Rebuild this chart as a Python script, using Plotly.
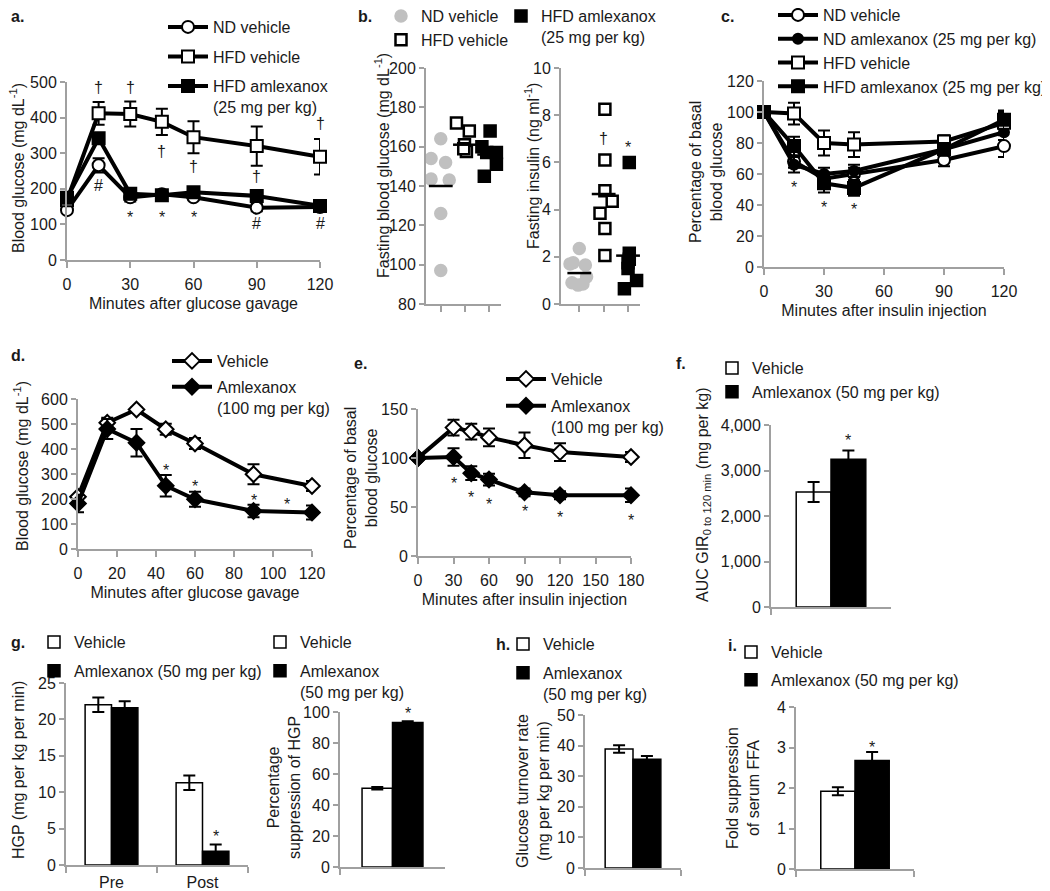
import plotly.graph_objects as go

# page has an 8px body margin: the figure is drawn at page offset (8, 8)
OFF = 8
W, H = 1042, 883
FONT = "Liberation Sans, Arial, sans-serif"
AXC = "#a0a0a0"
TXT = "#1a1a1a"
BARGAP = 0.42

# ---------------- data ----------------
# a. OGTT (25 mg/kg)
a_time = [0, 15, 30, 45, 60, 90, 120]
a_nd_veh = [140, 266, 176, 185, 176, 147, 149]
a_nd_veh_err = [8, 20, 12, 8, 8, 10, 10]
a_hfd_veh = [168, 412, 410, 388, 345, 320, 290]
a_hfd_veh_err = [12, 32, 35, 37, 45, 55, 50]
a_hfd_aml = [175, 342, 186, 182, 190, 180, 152]
a_hfd_aml_err = [12, 12, 12, 8, 8, 8, 8]
a_sig_x = [15, 30, 45, 60, 90, 120, 30, 45, 60, 15, 90, 120]
a_sig_y = [484, 484, 304, 262, 234, 383, 131, 131, 131, 210, 103, 103]
a_sig_t = ["†"] * 6 + ["*"] * 3 + ["#"] * 3

# b. fasting glucose / insulin (group index 1,2,3 with jitter)
b_glu_nd_x = [0.6, 1.0, 1.2, 0.6, 1.35, 1.0, 1.0]
b_glu_nd_y = [154, 164, 152, 143.5, 143, 126, 97]
b_glu_hv_x = [1.65, 2.18, 1.98, 2.06, 1.95]
b_glu_hv_y = [172, 168, 161, 157.5, 159]
b_glu_ha_x = [3.04, 2.7, 2.9, 3.3, 3.3, 2.8]
b_glu_ha_y = [168, 160, 157, 157, 151, 145]
b_glu_means = [140, 161, 156]
b_ins_nd_x = [1.0, 0.75, 1.25, 0.62, 1.3, 0.7, 0.95, 1.15]
b_ins_nd_y = [2.35, 1.75, 1.65, 1.7, 1.15, 0.9, 0.8, 0.85]
b_ins_hv_x = [2.05, 2.05, 2.05, 2.35, 1.85, 2.05, 2.05]
b_ins_hv_y = [8.25, 6.1, 4.8, 4.35, 3.85, 3.2, 2.05]
b_ins_ha_x = [3.05, 3.05, 3.0, 3.05, 3.0, 3.35, 2.85]
b_ins_ha_y = [6.0, 2.15, 1.75, 1.9, 1.5, 1.0, 0.65]
b_ins_means = [1.31, 4.66, 2.05]
b_groups = [1, 2, 3]
b_ins_sig_y = [7.0, 6.8]

# c. ITT (25 mg/kg)
c_time = [0, 15, 30, 45, 90, 120]
c_nd_veh = [100, 68, 57, 60, 69, 78]
c_nd_veh_err = [0, 4, 4, 4, 4, 7]
c_nd_aml = [100, 66, 60, 62, 76, 87]
c_nd_aml_err = [0, 5, 4, 4, 4, 5]
c_hfd_veh = [100, 99, 80, 79, 81, 93]
c_hfd_veh_err = [0, 7, 8, 8, 4, 7]
c_hfd_aml = [100, 78, 54, 51, 76, 95]
c_hfd_aml_err = [0, 6, 6, 5, 4, 6]
c_sig_x = [15, 30, 45]
c_sig_y = [54, 41, 40]

# d. OGTT (100 mg/kg)
d_time = [0, 15, 30, 45, 60, 90, 120]
d_veh = [209, 505, 558, 479, 422, 299, 252]
d_veh_err = [15, 20, 8, 22, 22, 40, 20]
d_aml = [182, 480, 425, 253, 199, 152, 146]
d_aml_err = [35, 40, 55, 43, 30, 25, 28]
d_sig_x = [45, 60, 90, 107]
d_sig_y = [329, 266, 209, 195]

# e. ITT (100 mg/kg)
e_time = [0, 30, 45, 60, 90, 120, 180]
e_veh = [100, 131, 127, 121, 113, 106, 101]
e_veh_err = [0, 8, 8, 9, 13, 9, 5]
e_aml = [100, 101, 84.5, 78, 65, 62, 62]
e_aml_err = [0, 9, 7, 6, 4, 4, 7]
e_sig_x = [30, 45, 60, 90, 120, 180]
e_sig_y = [78, 64, 57, 49, 43, 40]

# f. AUC GIR
f_cat = ["GIR"]
f_veh, f_veh_err = [2530], [220]
f_aml, f_aml_err = [3250], [190]
f_sig_y = 3750

# g. HGP
g_cat = ["Pre", "Post"]
g_veh, g_veh_err = [22.0, 11.3], [1.0, 1.0]
g_aml, g_aml_err = [21.6, 1.9], [0.9, 0.9]
g_sig_y = 4.4
g2_cat = ["HGP"]
g2_veh, g2_veh_err = [50.8], [0.8]
g2_aml, g2_aml_err = [93.3], [0.8]

# h. glucose turnover
h_cat = ["Rd"]
h_veh, h_veh_err = [38.9], [1.2]
h_aml, h_aml_err = [35.5], [1.1]

# i. FFA suppression
i_cat = ["FFA"]
i_veh, i_veh_err = [1.92], [0.1]
i_aml, i_aml_err = [2.68], [0.21]
i_sig_y = 3.1


# ---------------- helpers (page pixels -> paper fractions) ----------------
def px(x):
    return (x - OFF) / W


def py(y):
    return 1 - (y - OFF) / H


def dxp(x0, x1):
    return [px(x0), px(x1)]


def dyp(top, bottom):
    return [py(bottom), py(top)]


def line_tr(x, y, err, name, symbol, fill, size, n, legend, show=True):
    return go.Scatter(
        x=x, y=y, name=name, mode="lines+markers",
        line=dict(color="black", width=4),
        marker=dict(symbol=symbol, size=size, color=fill,
                    line=dict(color="black", width=2)),
        error_y=dict(type="data", array=err, color="black", thickness=2, width=6),
        cliponaxis=False, xaxis="x" + n, yaxis="y" + n,
        legend=legend, legendgroup=legend + name, showlegend=show)


def bar_tr(x, y, err, name, fill, n, legend, show=True):
    return go.Bar(
        x=x, y=y, name=name,
        marker=dict(color=fill, line=dict(color="black", width=1.5)),
        error_y=dict(type="data", array=err, color="black", thickness=2, width=6),
        xaxis="x" + n, yaxis="y" + n,
        legend=legend, legendgroup=legend + name, showlegend=show)


def dots_tr(x, y, name, symbol, fill, edge, n, legend, show):
    return go.Scatter(
        x=x, y=y, name=name, mode="markers",
        marker=dict(symbol=symbol, size=11, color=fill, line=dict(color=edge, width=2.5)),
        cliponaxis=False, xaxis="x" + n, yaxis="y" + n,
        legend=legend, legendgroup=legend + name, showlegend=show)


def mean_tr(means, n):
    return go.Scatter(
        x=b_groups, y=means, mode="markers", showlegend=False,
        marker=dict(symbol="line-ew", size=17, line=dict(color="black", width=2.5)),
        cliponaxis=False, xaxis="x" + n, yaxis="y" + n)


fig = go.Figure()

# a
fig.add_trace(line_tr(a_time, a_nd_veh, a_nd_veh_err, "ND vehicle", "circle", "white", 12, "1", "legend"))
fig.add_trace(line_tr(a_time, a_hfd_veh, a_hfd_veh_err, "HFD vehicle", "square", "white", 12, "1", "legend"))
fig.add_trace(line_tr(a_time, a_hfd_aml, a_hfd_aml_err, "HFD amlexanox<br>(25 mg per kg)", "square", "black", 12, "1", "legend"))

# b
GRAY = "#c0c0c0"
fig.add_trace(dots_tr(b_glu_nd_x, b_glu_nd_y, "ND vehicle", "circle", GRAY, GRAY, "2", "legend2", True))
fig.add_trace(dots_tr(b_glu_hv_x, b_glu_hv_y, "HFD vehicle", "square", "white", "black", "2", "legend2", True))
fig.add_trace(dots_tr(b_glu_ha_x, b_glu_ha_y, "HFD amlexanox<br>(25 mg per kg)", "square", "black", "black", "2", "legend3", True))
fig.add_trace(mean_tr(b_glu_means, "2"))
fig.add_trace(dots_tr(b_ins_nd_x, b_ins_nd_y, "ND vehicle", "circle", GRAY, GRAY, "3", "legend2", False))
fig.add_trace(dots_tr(b_ins_hv_x, b_ins_hv_y, "HFD vehicle", "square", "white", "black", "3", "legend2", False))
fig.add_trace(dots_tr(b_ins_ha_x, b_ins_ha_y, "HFD amlexanox", "square", "black", "black", "3", "legend3", False))
fig.add_trace(mean_tr(b_ins_means, "3"))

# c
fig.add_trace(line_tr(c_time, c_nd_veh, c_nd_veh_err, "ND vehicle", "circle", "white", 12, "4", "legend4"))
fig.add_trace(line_tr(c_time, c_nd_aml, c_nd_aml_err, "ND amlexanox (25 mg per kg)", "circle", "black", 10, "4", "legend4"))
fig.add_trace(line_tr(c_time, c_hfd_veh, c_hfd_veh_err, "HFD vehicle", "square", "white", 12, "4", "legend4"))
fig.add_trace(line_tr(c_time, c_hfd_aml, c_hfd_aml_err, "HFD amlexanox (25 mg per kg)", "square", "black", 12, "4", "legend4"))

# d
fig.add_trace(line_tr(d_time, d_veh, d_veh_err, "Vehicle", "diamond", "white", 12, "5", "legend5"))
fig.add_trace(line_tr(d_time, d_aml, d_aml_err, "Amlexanox<br>(100 mg per kg)", "diamond", "black", 12, "5", "legend5"))

# e
fig.add_trace(line_tr(e_time, e_veh, e_veh_err, "Vehicle", "diamond", "white", 12, "6", "legend6"))
fig.add_trace(line_tr(e_time, e_aml, e_aml_err, "Amlexanox<br>(100 mg per kg)", "diamond", "black", 12, "6", "legend6"))

# f
fig.add_trace(bar_tr(f_cat, f_veh, f_veh_err, "Vehicle", "white", "7", "legend7"))
fig.add_trace(bar_tr(f_cat, f_aml, f_aml_err, "Amlexanox (50 mg per kg)", "black", "7", "legend7"))

# g
fig.add_trace(bar_tr(g_cat, g_veh, g_veh_err, "Vehicle", "white", "8", "legend8"))
fig.add_trace(bar_tr(g_cat, g_aml, g_aml_err, "Amlexanox (50 mg per kg)", "black", "8", "legend8"))
fig.add_trace(bar_tr(g2_cat, g2_veh, g2_veh_err, "Vehicle", "white", "9", "legend9"))
fig.add_trace(bar_tr(g2_cat, g2_aml, g2_aml_err, "Amlexanox<br>(50 mg per kg)", "black", "9", "legend9"))

# h
fig.add_trace(bar_tr(h_cat, h_veh, h_veh_err, "Vehicle", "white", "10", "legend10"))
fig.add_trace(bar_tr(h_cat, h_aml, h_aml_err, "Amlexanox<br>(50 mg per kg)", "black", "10", "legend10"))

# i
fig.add_trace(bar_tr(i_cat, i_veh, i_veh_err, "Vehicle", "white", "11", "legend11"))
fig.add_trace(bar_tr(i_cat, i_aml, i_aml_err, "Amlexanox (50 mg per kg)", "black", "11", "legend11"))


# ---------------- axes ----------------
tickfont = dict(family=FONT, size=16, color=TXT)
titlefont = dict(family=FONT, size=16, color=TXT)


def xax(n, x0, x1, rng, tickvals=None, cat=False, title=None, standoff=6, showlabels=True, lstand=3):
    d = dict(domain=dxp(x0, x1), range=rng, anchor="y" + n, showgrid=False, zeroline=False,
             showline=True, linecolor=AXC, linewidth=2, ticks="outside", ticklen=6,
             tickcolor=AXC, tickwidth=2, tickfont=tickfont, showticklabels=showlabels,
             ticklabelstandoff=lstand, automargin=False)
    if cat:
        d.update(type="category", tickson="boundaries")
    else:
        d.update(tickmode="array", tickvals=tickvals)
    if title:
        d["title"] = dict(text=title, font=titlefont, standoff=standoff)
    return d


def yax(n, top, bottom, rng, dtick, fmt=None):
    d = dict(domain=dyp(top, bottom), range=rng, anchor="x" + n, showgrid=False, zeroline=False,
             showline=True, linecolor=AXC, linewidth=2, ticks="outside", ticklen=5,
             tickcolor=AXC, tickwidth=2, tickfont=tickfont, tick0=0, dtick=dtick,
             automargin=False)
    if fmt:
        d["tickformat"] = fmt
    return d


layout = dict(
    width=W, height=H, margin=dict(l=0, r=0, t=0, b=0, autoexpand=False),
    paper_bgcolor="white", plot_bgcolor="rgba(0,0,0,0)",
    font=dict(family=FONT, size=16, color=TXT),
    barmode="group", bargap=BARGAP, bargroupgap=0,
)

layout["xaxis"] = xax("1", 67, 320, [0, 120], [0, 30, 60, 90, 120], title="Minutes after glucose gavage")
layout["yaxis"] = yax("1", 82, 260, [0, 500], 100)
layout["xaxis2"] = xax("2", 426, 501, [0.39, 3.49], b_groups, showlabels=False)
layout["yaxis2"] = yax("2", 68, 304, [80, 200], 20)
layout["xaxis3"] = xax("3", 561, 640, [0.25, 3.49], b_groups, showlabels=False)
layout["yaxis3"] = yax("3", 68, 304, [0, 10], 2)
layout["xaxis4"] = xax("4", 764, 1004, [0, 120], [0, 30, 60, 90, 120], title="Minutes after insulin injection")
layout["yaxis4"] = yax("4", 81, 267, [0, 120], 20)
layout["xaxis5"] = xax("5", 78, 312, [0, 120], [0, 20, 40, 60, 80, 100, 120], title="Minutes after glucose gavage")
layout["yaxis5"] = yax("5", 399, 549, [0, 600], 100)
layout["xaxis6"] = xax("6", 418, 631, [0, 180], [0, 30, 60, 90, 120, 150, 180], title="Minutes after insulin injection")
layout["yaxis6"] = yax("6", 409, 556, [0, 150], 50)
layout["xaxis7"] = xax("7", 771, 891, [-0.5, 0.5], cat=True, showlabels=False)
layout["yaxis7"] = yax("7", 425, 607, [0, 4000], 1000, fmt=",")
layout["xaxis8"] = xax("8", 66, 248, [-0.5, 1.5], cat=True, lstand=2)
layout["yaxis8"] = yax("8", 683, 865, [0, 25], 5)
layout["xaxis9"] = xax("9", 340, 445, [-0.5, 0.5], cat=True, showlabels=False)
layout["yaxis9"] = yax("9", 712, 867, [0, 100], 20)
layout["xaxis10"] = xax("10", 585, 681, [-0.5, 0.5], cat=True, showlabels=False)
layout["yaxis10"] = yax("10", 715, 868, [0, 50], 10)
layout["xaxis11"] = xax("11", 796, 914, [-0.5, 0.5], cat=True, showlabels=False)
layout["yaxis11"] = yax("11", 707, 869, [0, 4], 1)


# ---------------- legends ----------------
def leg(text_x, first_y, gap, itemwidth=40):
    return dict(x=px(text_x - (itemwidth + 10)), y=py(first_y - 17),
                xref="paper", yref="paper", xanchor="left", yanchor="top",
                bgcolor="rgba(0,0,0,0)", borderwidth=0, font=dict(family=FONT, size=16, color=TXT),
                itemwidth=itemwidth, tracegroupgap=gap, valign="top", traceorder="grouped",
                itemclick=False, itemdoubleclick=False)


layout["legend"] = leg(213, 27, 5.7)
layout["legend2"] = leg(421, 16, 0, 30)
layout["legend3"] = leg(541, 16, 0, 30)
layout["legend4"] = leg(823, 15, 0)
layout["legend5"] = leg(217, 361, 2)
layout["legend6"] = leg(551, 379, 3)
layout["legend7"] = leg(752, 368, 0, 30)
layout["legend8"] = leg(74, 642, 5, 30)
layout["legend9"] = leg(300, 642, 5, 30)
layout["legend10"] = leg(543, 644, 5, 30)
layout["legend11"] = leg(771, 652, 4, 30)

# ---------------- annotations ----------------
ann = []
YSH = {"*": -4, "†": 0, "#": 0}


def sig(n, x, y, t, extra=0):
    ann.append(dict(x=x, y=y, xref="x" + n, yref="y" + n, text=t, showarrow=False,
                    font=dict(family=FONT, size=16, color=TXT), yshift=YSH[t] + extra))


for x, y, t in zip(a_sig_x, a_sig_y, a_sig_t):
    sig("1", x, y, t)
sig("3", b_groups[1], b_ins_sig_y[0], "†")
sig("3", b_groups[2], b_ins_sig_y[1], "*")
for x, y in zip(c_sig_x, c_sig_y):
    sig("4", x, y, "*")
for x, y in zip(d_sig_x, d_sig_y):
    sig("5", x, y, "*")
for x, y in zip(e_sig_x, e_sig_y):
    sig("6", x, y, "*")
off = (1 - BARGAP) / 4
sig("7", off, f_sig_y, "*")
sig("8", 1 + off, g_sig_y, "*")
sig("9", off, 100, "*", extra=3)   # just above the top of the axis
sig("11", off, i_sig_y, "*")

# y-axis titles (page pixel centres)
ytitles = [
    ("Blood glucose (mg dL<sup>-1</sup>)", 17, 168),
    ("Fasting blood glucose (mg dL<sup>-1</sup>)", 382, 166),
    ("Fasting insulin (ng ml<sup>-1</sup>)", 532, 166),
    ("Percentage of basal<br>blood glucose", 706, 172),
    ("Blood glucose (mg dL<sup>-1</sup>)", 21, 466),
    ("Percentage of basal<br>blood glucose", 361, 478),
    ("AUC GIR<sub>0 to 120 min</sub> (mg per kg)", 703, 495),
    ("HGP (mg per kg per min)", 18, 770),
    ("Percentage<br>suppression of HGP", 284, 788),
    ("Glucose turnover rate<br>(mg per kg per min)", 533, 791),
    ("Fold suppression<br>of serum FFA", 743, 788),
]
for t, cx, cy in ytitles:
    ann.append(dict(x=px(cx), y=py(cy), xref="paper", yref="paper", text=t, textangle=-90,
                    showarrow=False, xanchor="center", yanchor="middle",
                    font=dict(family=FONT, size=16, color=TXT)))

panel_labels = [("a.", 9, 16), ("b.", 356, 16), ("c.", 719, 16), ("d.", 9, 355), ("e.", 352, 363),
                ("f.", 674, 363), ("g.", 9, 642), ("h.", 494, 644), ("i.", 726, 645)]
for t, lx, ly in panel_labels:
    ann.append(dict(x=px(lx), y=py(ly), xref="paper", yref="paper", text="<b>" + t + "</b>",
                    showarrow=False, xanchor="left", yanchor="middle",
                    font=dict(family=FONT, size=16, color=TXT)))
layout["annotations"] = ann

fig.update_layout(layout)
fig.write_html("out.html")
